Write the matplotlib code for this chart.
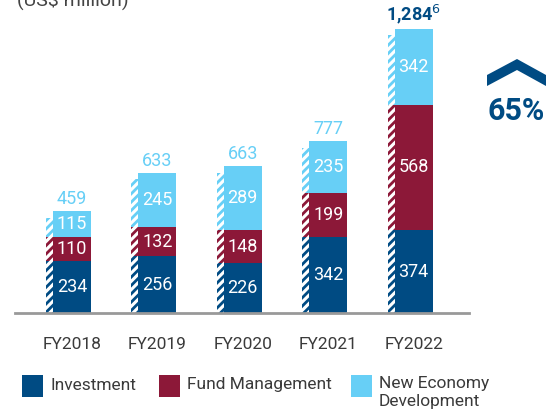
import numpy as np
import matplotlib.pyplot as plt
from matplotlib.patches import Polygon, Rectangle

plt.rcParams['font.family'] = ['Roboto', 'DejaVu Sans']
plt.rcParams['hatch.linewidth'] = 2.0

# data
years = ["FY2018", "FY2019", "FY2020", "FY2021", "FY2022"]
investment = [234, 256, 226, 342, 374]
fund_mgmt = [110, 132, 148, 199, 568]
new_economy = [115, 245, 289, 235, 342]
totals = ["459", "633", "663", "777", "1,284"]
series_names = ["Investment", "Fund Management", "New Economy\nDevelopment"]

c_inv = "#004b83"
c_fund = "#8c1838"
c_new = "#67cff6"
colors = [c_inv, c_fund, c_new]
txt = "#3a3a3a"

W, H = 550, 416
fig = plt.figure(figsize=(W / 100, H / 100), dpi=100)

# axes placed in pixel terms: baseline at y=313, line from x=15 to 469
ax = fig.add_axes([15 / W, (H - 313) / H, (469 - 15) / W, 313 / H])
px_per_unit = 284 / 1284
ax.set_ylim(0, 313 / px_per_unit)
step = 85.4
ax.set_xlim((15 - 72) / step, (469 - 72) / step)

x = np.arange(len(years))
bw = 38 / step
hw = 7 / step
series = [investment, fund_mgmt, new_economy]

bottom = np.zeros(len(years))
tops = np.array(investment) + np.array(fund_mgmt) + np.array(new_economy)
for k, (vals, col) in enumerate(zip(series, colors)):
    vals = np.array(vals, dtype=float)
    ax.bar(x, vals, bw, bottom=bottom, color=col, linewidth=0, zorder=2)
    # hatched side strip, top segment a little shorter
    hv = vals.copy()
    if k == len(series) - 1:
        hv = vals - 28
    ax.bar(x - bw / 2 - hw / 2, hv, hw, bottom=bottom, facecolor="white",
           edgecolor=col, hatch="////", linewidth=0, zorder=2)
    for xi, b, v in zip(x, bottom, vals):
        ax.text(xi, b + v / 2, str(int(v)), ha="center", va="center",
                color="white", fontsize=13, zorder=3)
    bottom = bottom + vals

for i, (xi, t) in enumerate(zip(x, tops)):
    if i == len(x) - 1:
        ax.text(xi, t + 14, totals[i] + "$^{6}$", ha="center", va="bottom",
                color=c_inv, fontsize=13, fontweight="bold")
    else:
        ax.text(xi, t + 14, totals[i], ha="center", va="bottom",
                color=c_new, fontsize=13)

for s in ["top", "right", "left"]:
    ax.spines[s].set_visible(False)
ax.spines["bottom"].set_color("#999999")
ax.spines["bottom"].set_linewidth(2)
ax.set_yticks([])
ax.set_xticks(x)
ax.set_xticklabels(years, fontsize=12.5, color=txt)
ax.tick_params(axis="x", length=0, pad=17)

# unit label, partly cut off at the top like the original
fig.text(17 / W, 1 - 6 / H, "(US$ million)", fontsize=14, color="#444444",
         ha="left", va="baseline")

# chevron + growth figure
chev = [(487, 75), (517, 59), (546, 75), (546, 86), (517, 70), (487, 86)]
chev = [(px / W, 1 - py / H) for px, py in chev]
fig.patches.append(Polygon(chev, closed=True, transform=fig.transFigure,
                           facecolor=c_inv, edgecolor="none"))
fig.text(516 / W, 1 - 111 / H, "65%", fontsize=22, fontweight="bold",
         color=c_inv, ha="center", va="center")

# legend
leg_x = [22, 159, 351]
for lx, name, col in zip(leg_x, series_names, colors):
    fig.patches.append(Rectangle((lx / W, 1 - 397 / H), 21 / W, 22 / H,
                                 transform=fig.transFigure, facecolor=col,
                                 edgecolor="none"))
    if "\n" in name:
        fig.text((lx + 28) / W, 1 - 376 / H, name, fontsize=12.5, color=txt,
                 ha="left", va="top", linespacing=1.25)
    else:
        fig.text((lx + 28) / W, 1 - 385 / H, name, fontsize=12.5, color=txt,
                 ha="left", va="center")

fig.savefig("out.png", dpi=100)
